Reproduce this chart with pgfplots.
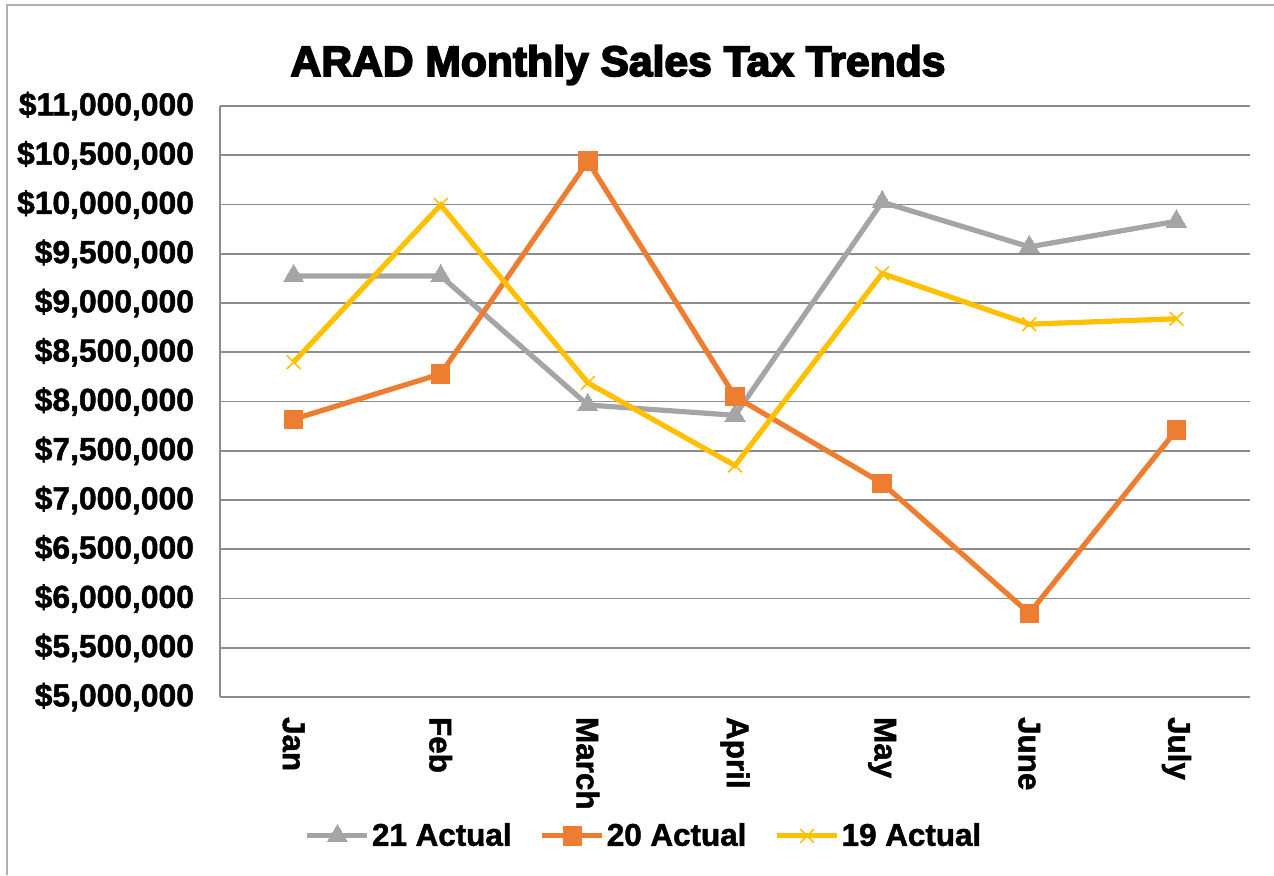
\documentclass[border=0pt]{standalone}
\usepackage{fontspec}
\setmainfont{Liberation Sans}
\newfontfamily\titlefont[FakeBold=4]{Liberation Sans Bold}
\newfontfamily\lblfont[FakeBold=1.5]{Liberation Sans Bold}
\usepackage{pgfplots}
\pgfplotsset{compat=1.18}
\definecolor{c21}{HTML}{A5A5A5}
\definecolor{c20}{HTML}{ED7D31}
\definecolor{c19}{HTML}{FFC000}
\definecolor{gridgray}{HTML}{8C8C8C}
\definecolor{framegray}{HTML}{B0B0B0}
\begin{document}
\begin{tikzpicture}
\useasboundingbox (0pt,0pt) rectangle (637pt,-437.5pt);
\draw[framegray, line width=1pt] (3.5pt,-437.5pt) -- (3.5pt,-2.5pt) -- (637pt,-2.5pt);
\node[anchor=base, font=\titlefont\fontsize{21.3}{24}\selectfont] at (309pt,-38pt) {ARAD Monthly Sales Tax Trends};
\begin{axis}[
  at={(110pt,-53pt)}, anchor=north west,
  scale only axis, width=515pt, height=295.5pt,
  xmin=-0.5, xmax=6.5, ymin=5000000, ymax=11000000,
  xtick={0,1,2,3,4,5,6},
  xticklabels={Jan,Feb,March,April,May,June,July},
  ytick={5000000,5500000,6000000,6500000,7000000,7500000,8000000,8500000,9000000,9500000,10000000,10500000,11000000},
  yticklabels={\$5{,}000{,}000,\$5{,}500{,}000,\$6{,}000{,}000,\$6{,}500{,}000,\$7{,}000{,}000,\$7{,}500{,}000,\$8{,}000{,}000,\$8{,}500{,}000,\$9{,}000{,}000,\$9{,}500{,}000,\$10{,}000{,}000,\$10{,}500{,}000,\$11{,}000{,}000},
  scaled y ticks=false,
  axis lines=left,
  axis line style={-, draw=gridgray, line width=1pt},
  major tick length=0pt,
  ymajorgrids, grid style={gridgray, line width=0.9pt},
  yticklabel style={font=\lblfont\fontsize{15.9}{17}\selectfont, anchor=east, xshift=-9.5pt},
  xticklabel style={font=\lblfont\fontsize{15.7}{17}\selectfont, rotate=-90, anchor=west, xshift=6.5pt},
  legend columns=3,
  legend style={at={(axis description cs:0.4117,-0.235)}, anchor=center, draw=none, fill=none,
    font=\lblfont\fontsize{15.7}{17}\selectfont,
    /tikz/every even column/.append style={column sep=13pt},
    inner sep=0pt, nodes={inner sep=1pt}},
  legend image code/.code={\draw[mark repeat=2,mark phase=2,#1] plot coordinates {(0pt,0pt) (15pt,0pt) (30pt,0pt)};},
  clip=false,
]
\addplot[c21, line width=2.6pt, mark=triangle*, mark size=5.8pt, mark options={solid, fill=c21, draw=c21, line width=0pt}]
  coordinates {(0,9275000) (1,9275000) (2,7965000) (3,7860000) (4,10025000) (5,9570000) (6,9830000)};
\addlegendentry{21 Actual}
\addplot[c20, line width=2.6pt, mark=square*, mark size=4.6pt, mark options={solid, fill=c20, draw=c20, line width=0.5pt}]
  coordinates {(0,7820000) (1,8280000) (2,10440000) (3,8050000) (4,7170000) (5,5850000) (6,7710000)};
\addlegendentry{20 Actual}
\addplot[c19, line width=2.6pt, mark=x, mark size=4.8pt, mark options={solid, draw=c19, line width=0.8pt}]
  coordinates {(0,8400000) (1,9995000) (2,8190000) (3,7350000) (4,9300000) (5,8785000) (6,8840000)};
\addlegendentry{19 Actual}
\end{axis}
\end{tikzpicture}
\end{document}
